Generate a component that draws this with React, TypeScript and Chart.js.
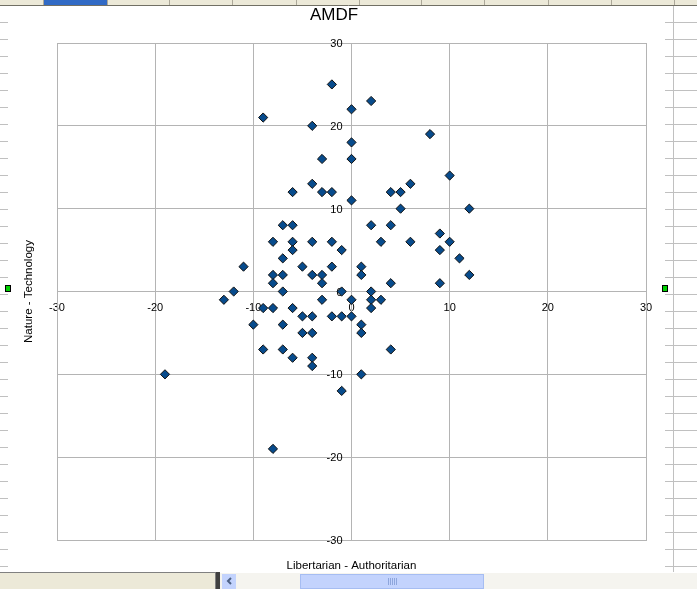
import React, { useEffect, useRef } from "react";
import { Chart, registerables } from "chart.js";

Chart.register(...registerables);

const chartTitle = "AMDF";
const xTitle = "Libertarian - Authoritarian";
const yTitle = "Nature - Technology";
const axisMin = -30;
const axisMax = 30;
const axisStep = 10;

// Libertarian - Authoritarian (x) values
const libAuth = [
  -2, 2, 0, -9, -4, 8, 0, -3, 0, 10, -4, 6, -6, -3, -2, 4, 5, 0, 5, 12,
  -7, -6, 2, 4, 9, -8, -6, -4, -2, 3, 6, 10, -6, -1, 9, -7, 11, -11, -5, -2,
  1, -8, -7, -4, -3, 1, 12, -8, -3, 4, 9, -12, -7, -1, 2, -13, -3, 0, 2, 3,
  -9, -8, -6, 2, -5, -4, -2, -1, 0, -10, -7, 1, -5, -4, 1, -9, -7, 4, -6, -4,
  -4, -19, 1, -1, -8,
];
// Nature - Technology (y) values
const natTech = [
  25, 23, 22, 21, 20, 19, 18, 16, 16, 14, 13, 13, 12, 12, 12, 12, 12, 11, 10, 10,
  8, 8, 8, 8, 7, 6, 6, 6, 6, 6, 6, 6, 5, 5, 5, 4, 4, 3, 3, 3,
  3, 2, 2, 2, 2, 2, 2, 1, 1, 1, 1, 0, 0, 0, 0, -1, -1, -1, -1, -1,
  -2, -2, -2, -2, -3, -3, -3, -3, -3, -4, -4, -4, -5, -5, -5, -7, -7, -7, -8, -8,
  -9, -10, -10, -12, -19,
];

const FONT = '"Liberation Sans", Arial, sans-serif';
const GRID = "#b4b4b4";

const chromePlugin = {
  id: "excelChrome",
  beforeDraw(chart: any) {
    const ctx = chart.ctx as CanvasRenderingContext2D;
    const W = chart.width;
    const H = chart.height;
    ctx.save();
    ctx.fillStyle = "#ffffff";
    ctx.fillRect(0, 0, W, H);
    // header strip
    ctx.fillStyle = "#ece9d8";
    ctx.fillRect(0, 0, W, 5);
    ctx.fillStyle = "#316ac5";
    ctx.fillRect(44, 0, 63, 5);
    ctx.strokeStyle = "#aca899";
    ctx.lineWidth = 1;
    [43, 107, 169, 232, 296, 359, 421, 484, 548, 611, 674].forEach((x) => {
      ctx.beginPath();
      ctx.moveTo(x + 0.5, 0);
      ctx.lineTo(x + 0.5, 5);
      ctx.stroke();
    });
    ctx.strokeStyle = "#716f64";
    ctx.beginPath();
    ctx.moveTo(0, 5.5);
    ctx.lineTo(W, 5.5);
    ctx.stroke();
    // sheet grid remnants
    ctx.strokeStyle = "#c0c0c0";
    ctx.beginPath();
    ctx.moveTo(673.5, 6);
    ctx.lineTo(673.5, 572);
    ctx.stroke();
    for (let y = 22; y < 572; y += 17) {
      ctx.beginPath();
      ctx.moveTo(665, y + 0.5);
      ctx.lineTo(W, y + 0.5);
      ctx.moveTo(0, y + 0.5);
      ctx.lineTo(8, y + 0.5);
      ctx.stroke();
    }
    // bottom bar
    ctx.fillStyle = "#ece9d8";
    ctx.fillRect(0, 572, 216, H - 572);
    ctx.strokeStyle = "#808080";
    ctx.beginPath();
    ctx.moveTo(0, 572.5);
    ctx.lineTo(215, 572.5);
    ctx.moveTo(215.5, 572);
    ctx.lineTo(215.5, H);
    ctx.stroke();
    ctx.fillStyle = "#f5f4ef";
    ctx.fillRect(220, 573, W - 220, H - 573);
    ctx.fillStyle = "#404040";
    ctx.fillRect(216, 572, 4, H - 572);
    ctx.fillStyle = "#c3d3fd";
    ctx.fillRect(222, 574, 14, 15);
    ctx.fillRect(300, 574, 184, 15);
    ctx.strokeStyle = "#a6bdf2";
    ctx.strokeRect(300.5, 574.5, 183, 14);
    ctx.strokeStyle = "#4d6185";
    ctx.lineWidth = 2;
    ctx.beginPath();
    ctx.moveTo(231, 578);
    ctx.lineTo(228, 581);
    ctx.lineTo(231, 584);
    ctx.stroke();
    ctx.lineWidth = 1;
    ctx.strokeStyle = "#8ea6dc";
    for (let x = 388; x <= 396; x += 2) {
      ctx.beginPath();
      ctx.moveTo(x + 0.5, 578);
      ctx.lineTo(x + 0.5, 585);
      ctx.stroke();
    }
    ctx.restore();
  },
  beforeDatasetsDraw(chart: any) {
    const ctx = chart.ctx as CanvasRenderingContext2D;
    const a = chart.chartArea;
    ctx.save();
    ctx.strokeStyle = GRID;
    ctx.lineWidth = 1;
    ctx.strokeRect(Math.round(a.left) + 0.5, Math.round(a.top) + 0.5, Math.round(a.right - a.left), Math.round(a.bottom - a.top));
    // y tick labels, placed left of the centred vertical axis
    const ys = chart.scales.y;
    const axisX = chart.scales.x.getPixelForValue(0);
    ctx.fillStyle = "#000";
    ctx.font = `11px ${FONT}`;
    ctx.textAlign = "right";
    ctx.textBaseline = "middle";
    ys.ticks.forEach((t: any) => {
      ctx.fillText(String(t.value), axisX - 9, ys.getPixelForValue(t.value) + 1);
    });
    ctx.restore();
  },
  afterDraw(chart: any) {
    const ctx = chart.ctx as CanvasRenderingContext2D;
    const a = chart.chartArea;
    ctx.save();
    ctx.fillStyle = "#000";
    ctx.textAlign = "center";
    ctx.textBaseline = "middle";
    ctx.font = `17px ${FONT}`;
    ctx.fillText(chartTitle, 334, 15);
    ctx.font = `11.5px ${FONT}`;
    ctx.fillText(xTitle, (a.left + a.right) / 2, 566);
    ctx.translate(29, (a.top + a.bottom) / 2);
    ctx.rotate(-Math.PI / 2);
    ctx.fillText(yTitle, 0, 0);
    ctx.restore();
    // selection handles
    ctx.save();
    ctx.fillStyle = "#00d000";
    ctx.strokeStyle = "#000";
    ctx.fillRect(5, 285, 6, 7);
    ctx.strokeRect(5.5, 285.5, 5, 6);
    ctx.fillRect(662, 285, 6, 7);
    ctx.strokeRect(662.5, 285.5, 5, 6);
    ctx.restore();
  },
};

export default function App() {
  const ref = useRef<HTMLCanvasElement | null>(null);
  useEffect(() => {
    if (!ref.current) return;
    const points = libAuth.map((x, i) => ({ x, y: natTech[i] }));
    const tickFont = { family: FONT, size: 11 };
    const chart = new Chart(ref.current, {
      type: "scatter",
      data: {
        datasets: [
          {
            data: points,
            pointStyle: "rectRot",
            radius: 4.6,
            backgroundColor: "#074b8c",
            borderColor: "#111111",
            borderWidth: 1,
          },
        ],
      },
      options: {
        animation: false,
        responsive: false,
        devicePixelRatio: 1,
        events: [],
        layout: { padding: { left: 57, top: 43, right: 51, bottom: 49 } },
        plugins: {
          legend: { display: false },
          tooltip: { enabled: false },
          title: { display: false },
        },
        scales: {
          x: {
            type: "linear",
            min: axisMin,
            max: axisMax,
            position: { y: 0 } as any,
            ticks: {
              stepSize: axisStep,
              color: "#000",
              font: tickFont,
              padding: 6,
              maxRotation: 0,
              autoSkip: false,
            },
            grid: { color: GRID, tickLength: 4, tickColor: GRID },
            border: { color: GRID },
          },
          y: {
            type: "linear",
            min: axisMin,
            max: axisMax,
            position: { x: 0 } as any,
            ticks: {
              stepSize: axisStep,
              display: false,
              autoSkip: false,
            },
            grid: { color: GRID, tickLength: 4, tickColor: GRID },
            border: { color: GRID },
          },
        },
      },
      plugins: [chromePlugin],
    });
    return () => chart.destroy();
  }, []);
  return (
    <div style={{ position: "fixed", left: 0, top: 0, width: 697, height: 589 }}>
      <canvas ref={ref} width={697} height={589} style={{ display: "block" }} />
    </div>
  );
}
